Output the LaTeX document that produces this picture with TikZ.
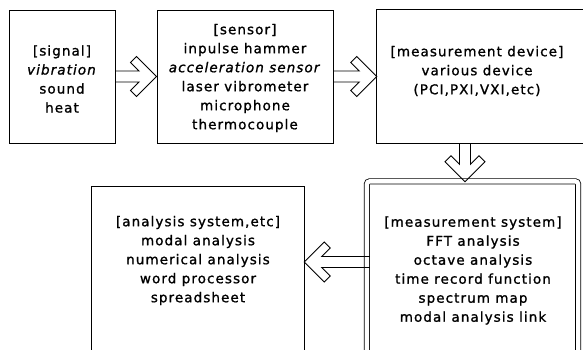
\documentclass[tikz,border=0pt]{standalone}
\usepackage{fontspec}
\setmainfont{DejaVu Sans}[LetterSpace=8, FakeBold=1.2]
\usetikzlibrary{calc}
\newcommand\ArrR[2]{\draw[arr] ($(#1)+(0,-5.5)$) -- ($(#2)+(-17.5,-5.5)$) -- ($(#2)+(-26,-14)$) -- ($(#2)+(-20,-20)$) -- (#2) -- ($(#2)+(-20,20)$) -- ($(#2)+(-26,14)$) -- ($(#2)+(-17.5,5.5)$) -- ($(#1)+(0,5.5)$);}
\newcommand\ArrL[2]{\draw[arr] ($(#1)+(0,-5.5)$) -- ($(#2)+(17.5,-5.5)$) -- ($(#2)+(26,-14)$) -- ($(#2)+(20,-20)$) -- (#2) -- ($(#2)+(20,20)$) -- ($(#2)+(26,14)$) -- ($(#2)+(17.5,5.5)$) -- ($(#1)+(0,5.5)$);}
\newcommand\ArrD[2]{\draw[arr] ($(#1)+(-5.5,0)$) -- ($(#2)+(-5.5,-17.5)$) -- ($(#2)+(-14,-26)$) -- ($(#2)+(-20,-20)$) -- (#2) -- ($(#2)+(20,-20)$) -- ($(#2)+(14,-26)$) -- ($(#2)+(5.5,-17.5)$) -- ($(#1)+(5.5,0)$);}
\begin{document}
\begin{tikzpicture}[x=1pt,y=-1pt,
  box/.style={draw, line width=0.9pt, inner sep=0pt},
  frame/.style={draw=none, inner sep=0pt},
  edge/.style={line width=0.9pt},
  txt/.style={align=center, font=\fontsize{13.5}{19}\selectfont, inner sep=0pt},
  arr/.style={line width=0.9pt, line join=miter}]
\useasboundingbox (0,0) rectangle (583,350);
\fill[white] (0,0) rectangle (583,350);
% boxes
\node[box, minimum width=106pt, minimum height=133pt] (sig) at (62,76.5) {};
\node[box, minimum width=176pt, minimum height=133pt] (sen) at (245,76.5) {};
\node[frame, minimum width=216pt, minimum height=133pt] (dev) at (485,76.5) {};
\draw[edge] (dev.north east) -- (dev.north west) -- (dev.south west) -- (dev.south east);
\node[frame, minimum width=212pt, minimum height=183pt] (ana) at (198,278.5) {};
\draw[edge] (ana.south west) -- (ana.north west) -- (ana.north east) -- (ana.south east);
\node[frame, minimum width=211pt, minimum height=190pt] (ms) at (472.5,276.5) {};
\draw[double, double distance=4.4pt, line width=0.8pt, rounded corners=3pt] (ms.south west) -- (ms.north west) -- (ms.north east) -- (ms.south east);
% texts
\node[txt] (sigT) at (62,79) {[signal]\\\textit{vibration}\\sound\\heat};
\node[txt] (senT) at (245,78) {[sensor]\\inpulse hammer\\\textit{acceleration sensor}\\laser vibrometer\\microphone\\thermocouple};
\node[txt] (devT) at (477,71) {[measurement device]\\various device\\(PCI,PXI,VXI,etc)};
\node[txt] (anaT) at (198,260.5) {[analysis system,etc]\\modal analysis\\numerical analysis\\word processor\\spreadsheet};
\node[txt] (msT) at (473,270.5) {[measurement system]\\FFT analysis\\octave analysis\\time record function\\spectrum map\\modal analysis link};
% connector end points
\coordinate (dnx) at (465,0);
\coordinate (lfy) at (0,262);
\coordinate (dstart) at (dnx |- dev.south);
\coordinate (dtip) at ($(dnx |- ms.north)+(0,0.5)$);
\coordinate (lstart) at ($(ms.west |- lfy)+(3,0)$);
\coordinate (ltip) at (ana.east |- lfy);
% arrows
\ArrR{sig.east}{sen.west}
\ArrR{sen.east}{dev.west}
\ArrD{dstart}{dtip}
\ArrL{lstart}{ltip}
\end{tikzpicture}
\end{document}
